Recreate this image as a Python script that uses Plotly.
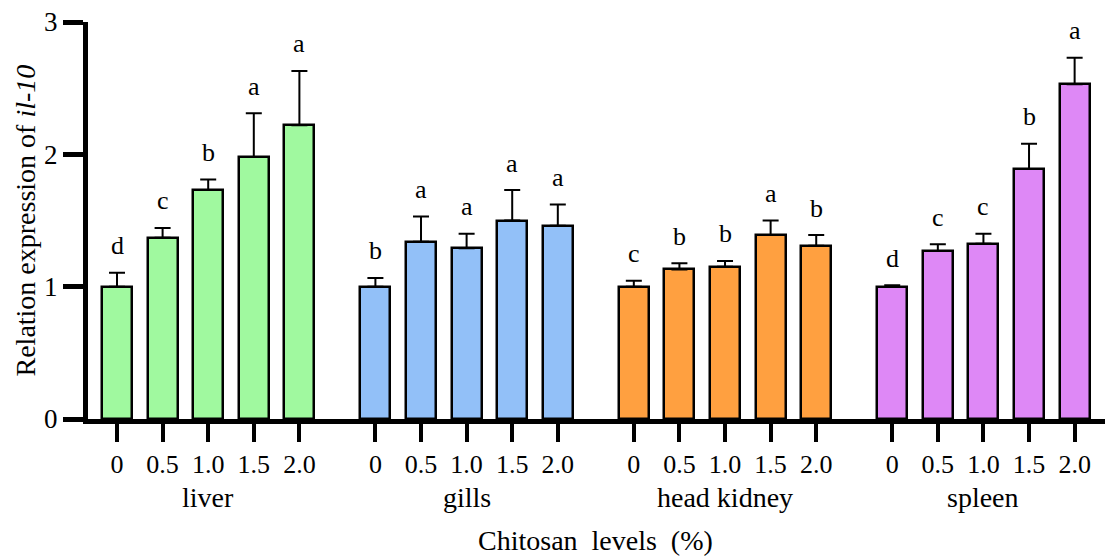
import plotly.graph_objects as go

tissues = ["liver", "gills", "head kidney", "spleen"]
levels = ["0", "0.5", "1.0", "1.5", "2.0"]
means = {
    "liver": [1.00, 1.37, 1.73, 1.98, 2.22],
    "gills": [1.00, 1.34, 1.29, 1.50, 1.46],
    "head kidney": [1.00, 1.13, 1.15, 1.39, 1.31],
    "spleen": [1.00, 1.27, 1.325, 1.89, 2.53],
}
errs = {
    "liver": [0.106, 0.074, 0.08, 0.33, 0.41],
    "gills": [0.066, 0.19, 0.11, 0.23, 0.16],
    "head kidney": [0.045, 0.047, 0.044, 0.11, 0.08],
    "spleen": [0.01, 0.05, 0.075, 0.19, 0.20],
}
letters = {
    "liver": ["d", "c", "b", "a", "a"],
    "gills": ["b", "a", "a", "a", "a"],
    "head kidney": ["c", "b", "b", "a", "b"],
    "spleen": ["d", "c", "c", "b", "a"],
}
colors = {
    "liver": "#A0F99F",
    "gills": "#92C0F8",
    "head kidney": "#FFA040",
    "spleen": "#DE88F6",
}

FONT = "Liberation Serif"
GROUP_STEP = 5.667

fig = go.Figure()
tickvals, ticktext = [], []
annotations = []
for g, t in enumerate(tissues):
    xs = [g * GROUP_STEP + i for i in range(len(levels))]
    tickvals += xs
    ticktext += levels
    fig.add_trace(go.Bar(
        x=xs, y=means[t], width=0.66,
        marker=dict(color=colors[t], line=dict(color="black", width=2.5)),
        error_y=dict(type="data", array=errs[t], arrayminus=[0] * len(xs),
                     symmetric=False, color="black", thickness=2, width=8),
        showlegend=False,
    ))
    for x, m, e, l in zip(xs, means[t], errs[t], letters[t]):
        annotations.append(dict(x=x, y=m + e, text=l, showarrow=False,
                                xref="x", yref="y", yanchor="middle", yshift=27,
                                font=dict(family=FONT, size=26, color="black")))
    annotations.append(dict(x=g * GROUP_STEP + 2, y=-0.0, text=t, showarrow=False,
                            xref="x", yref="y", yanchor="middle", yshift=-78,
                            font=dict(family=FONT, size=28, color="black")))

annotations.append(dict(x=(3 * GROUP_STEP + 4) / 2, y=0, text="Chitosan  levels  (%)",
                        showarrow=False, xref="x", yref="y", yanchor="middle", yshift=-121,
                        font=dict(family=FONT, size=28, color="black")))
annotations.append(dict(x=0, y=1.5, text="Relation expression of <i>il-10</i>",
                        showarrow=False, xref="paper", yref="y", textangle=-90,
                        xanchor="center", yanchor="middle", xshift=-63,
                        font=dict(family=FONT, size=28, color="black")))

fig.update_layout(
    width=1105, height=557,
    margin=dict(l=88, r=0, t=22, b=138),
    plot_bgcolor="white", paper_bgcolor="white",
    annotations=annotations,
    bargap=0,
)
fig.update_xaxes(range=[-0.636, 21.667], tickvals=tickvals, ticktext=ticktext,
                 showline=True, linecolor="black", linewidth=5,
                 ticks="outside", ticklen=18, tickwidth=4, tickcolor="black",
                 tickfont=dict(family=FONT, size=26, color="black"),
                 showgrid=False, zeroline=False)
fig.update_yaxes(range=[0, 3], tickvals=[0, 1, 2, 3],
                 showline=True, linecolor="black", linewidth=5,
                 ticks="outside", ticklen=20, tickwidth=5, tickcolor="black",
                 tickfont=dict(family=FONT, size=27, color="black"),
                 showgrid=False, zeroline=False)

fig.write_html("out.html")
